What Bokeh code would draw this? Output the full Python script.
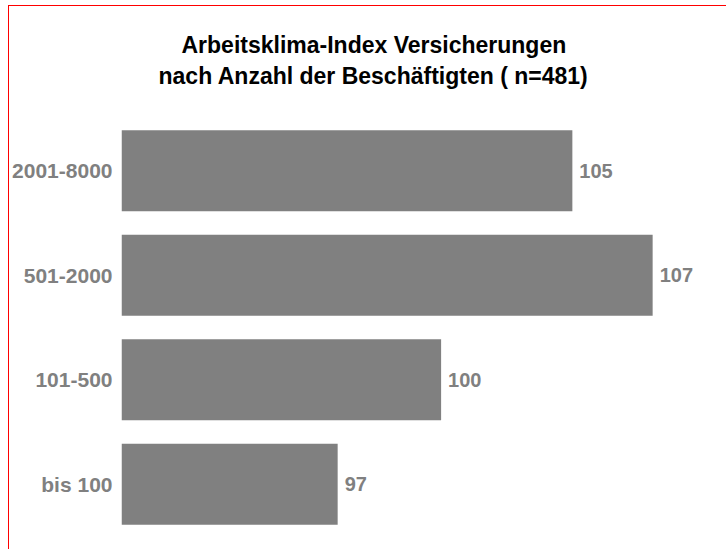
from bokeh.plotting import figure
from bokeh.models import ColumnDataSource, LabelSet, Title, FactorRange, Range1d
from bokeh.core.properties import value
from bokeh.embed import file_html
from bokeh.resources import INLINE

categories = ["bis 100", "101-500", "501-2000", "2001-8000"]
values = [97.0, 100.35, 107.2, 104.6]
labels = ["97", "100", "107", "105"]

title_line1 = "Arbeitsklima-Index Versicherungen"
title_line2 = "nach Anzahl der Beschäftigten ( n=481)"

src = ColumnDataSource(dict(cat=categories, val=values, lab=labels))

p = figure(width=718, height=544, output_backend="svg", toolbar_location=None,
           y_range=FactorRange(*categories), x_range=Range1d(90, 109.3),
           min_border_left=107, min_border_right=10, min_border_bottom=14,
           min_border_top=112, title=None)

p.hbar(y="cat", right="val", left=90, height=0.775, source=src,
       fill_color="#808080", line_color=None)

ls = LabelSet(x="val", y="cat", text="lab", source=src, x_offset=7,
              text_baseline="middle", text_align="left",
              text_font=value("Liberation Sans"), text_font_size=value("20px"),
              text_font_style="bold", text_color="#808080")
p.add_layout(ls)

title_style = dict(text_font="Liberation Sans", text_font_size="23px",
                   text_font_style="bold", text_color="#000000", align="left")
spacer = Title(text=" ", standoff=2, **title_style)
t2 = Title(text=title_line2, standoff=0, offset=37, **title_style)
t1 = Title(text=title_line1, standoff=6, offset=60, **title_style)
p.add_layout(spacer, "above")
p.add_layout(t2, "above")
p.add_layout(t1, "above")

p.xaxis.visible = False
p.yaxis.axis_line_color = None
p.yaxis.major_tick_line_color = None
p.yaxis.minor_tick_line_color = None
p.yaxis.major_tick_out = 0
p.yaxis.major_tick_in = 0
p.yaxis.minor_tick_out = 0
p.yaxis.major_label_text_font = "Liberation Sans"
p.yaxis.major_label_text_font_size = "21px"
p.yaxis.major_label_text_font_style = "bold"
p.yaxis.major_label_text_color = "#808080"
p.yaxis.major_label_standoff = 9
p.xgrid.visible = False
p.ygrid.visible = False
p.outline_line_color = None
p.background_fill_color = "white"
p.border_fill_color = "white"
p.styles = {"border-left": "1px solid #ff0000", "border-top": "1px solid #ff0000",
            "margin-left": "8px", "margin-top": "5px"}

open("out.html", "w").write(file_html(p, INLINE))
